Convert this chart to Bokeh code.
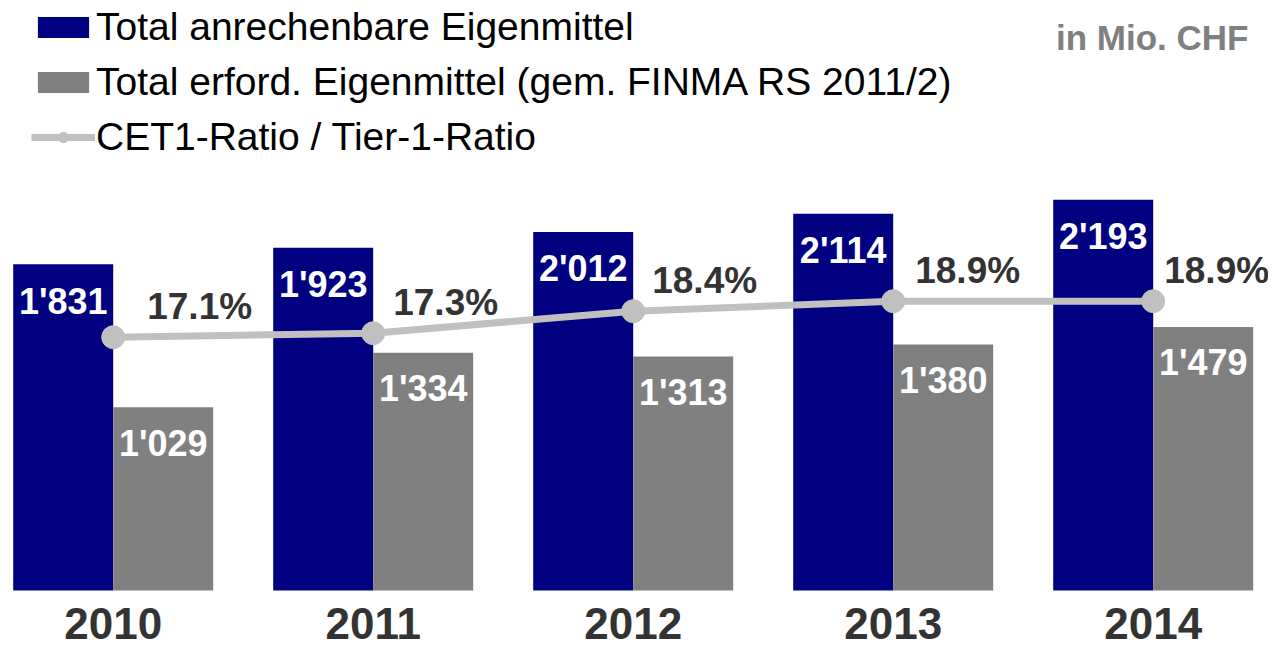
from bokeh.plotting import figure
from bokeh.models import ColumnDataSource, Range1d, Legend, LegendItem, Label
from bokeh.transform import dodge
from bokeh.core.properties import value
from bokeh.embed import file_html
from bokeh.resources import INLINE

# ---- data ----
years = [2010, 2011, 2012, 2013, 2014]
year_labels = ["2010", "2011", "2012", "2013", "2014"]
anrechenbar = [1831, 1923, 2012, 2114, 2193]
erforderlich = [1029, 1334, 1313, 1380, 1479]
ratio = [17.1, 17.3, 18.4, 18.9, 18.9]

# label nudges (style), in screen pixels
ratio_label_dx = [34, 20, 19, 22, 11]

src = ColumnDataSource(dict(
    year=years,
    ylab=year_labels,
    a=anrechenbar,
    e=erforderlich,
    a_lab=[f"{v:,}".replace(",", "'") for v in anrechenbar],
    e_lab=[f"{v:,}".replace(",", "'") for v in erforderlich],
    r=ratio,
    r_lab=[f"{v:.1f}%" for v in ratio],
    r_dx=ratio_label_dx,
    zero=[0] * len(years),
))

FONT = "Liberation Sans"
W, H = 1268, 651
px = 260.0  # pixels per category
x0 = years[0] - 112.7 / px
base = 590.0   # pixel row of the bar baseline
k = 0.1782     # pixels per Mio. CHF
pk = 20.0      # pixels per percentage point
p = figure(width=W, height=H, output_backend="svg", toolbar_location=None,
           x_range=Range1d(x0, x0 + W / px),
           y_range=Range1d(-(H - base) / k, base / k),
           x_axis_location=None, y_axis_location=None,
           min_border=0, outline_line_color=None)
p.grid.visible = False
p.extra_y_ranges = {"pct": Range1d(17.1 - (H - 336.7) / pk, 17.1 + 336.7 / pk)}

off = 50 / px
bw = 100 / px
r_a = p.vbar(x=dodge("year", -off, range=p.x_range), top="a", width=bw,
             source=src, fill_color="#000080", line_color=None)
r_e = p.vbar(x=dodge("year", off, range=p.x_range), top="e", width=bw,
             source=src, fill_color="#808080", line_color=None)

r_l = p.line("year", "r", source=src, y_range_name="pct",
             line_color="#C0C0C0", line_width=7)
r_s = p.scatter("year", "r", source=src, y_range_name="pct", size=23,
                fill_color="#C0C0C0", line_color="#C0C0C0")

# value labels inside bars
p.text(x=dodge("year", -off, range=p.x_range), y="a", text="a_lab", source=src,
       text_font=value(FONT), text_font_size="36px", text_font_style="bold",
       text_color="white", text_align="center", text_baseline="alphabetic",
       y_offset=37)
p.text(x=dodge("year", off, range=p.x_range), y="e", text="e_lab", source=src,
       text_font=value(FONT), text_font_size="36px", text_font_style="bold",
       text_color="white", text_align="center", text_baseline="alphabetic",
       y_offset=36)

# ratio labels
p.text(x="year", y="r", text="r_lab", source=src, y_range_name="pct",
       text_font=value(FONT), text_font_size="37px", text_font_style="bold",
       text_color="#333333", text_align="left", text_baseline="alphabetic",
       x_offset="r_dx", y_offset=-31)

# year labels
p.text(x="year", y="zero", text="ylab", source=src,
       text_font=value(FONT), text_font_size="44px", text_font_style="bold",
       text_color="#333333", text_align="center", text_baseline="alphabetic",
       y_offset=33)

legend = Legend(items=[
    LegendItem(label="Total anrechenbare Eigenmittel", renderers=[r_a]),
    LegendItem(label="Total erford. Eigenmittel (gem. FINMA RS 2011/2)", renderers=[r_e]),
    LegendItem(label="CET1-Ratio / Tier-1-Ratio", renderers=[r_l, r_s]),
], location=(31, 492), label_text_font=FONT, label_text_font_size="39px",
   label_text_color="black", glyph_width=64, glyph_height=26, label_standoff=1,
   spacing=11, padding=0, margin=0, border_line_alpha=0, background_fill_alpha=0)
p.add_layout(legend)

p.add_layout(Label(x=1248, y=H - 37, x_units="screen", y_units="screen",
                   text="in Mio. CHF", text_align="right", text_baseline="alphabetic",
                   text_font=FONT, text_font_size="35px", text_font_style="bold",
                   text_color="#808080"))

open("out.html", "w").write(file_html(p, INLINE))
